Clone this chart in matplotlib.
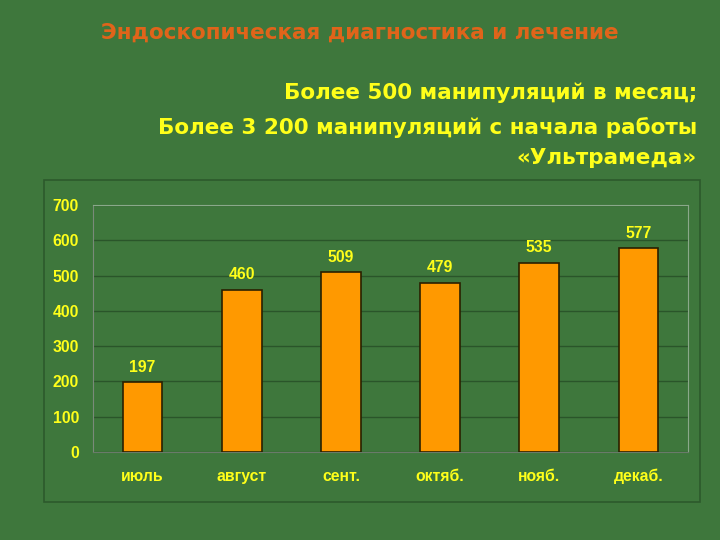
import numpy as np
import matplotlib.pyplot as plt
from matplotlib.patches import Rectangle

months = ['июль', 'август', 'сент.', 'октяб.', 'нояб.', 'декаб.']
counts = [197, 460, 509, 479, 535, 577]
yticks = [0, 100, 200, 300, 400, 500, 600, 700]

title = 'Эндоскопическая диагностика и лечение'
subtitle = ['Более 500 манипуляций в месяц;',
            'Более 3 200 манипуляций с начала работы',
            '«Ультрамеда»']

bg = '#3e773c'
yellow = '#ffff1a'

fig = plt.figure(figsize=(7.2, 5.4), dpi=100)
fig.patch.set_facecolor(bg)

# outer chart frame
fig.patches.append(Rectangle((44/720, 1-502/540), (700-44)/720, (502-180)/540,
                             transform=fig.transFigure, fill=False,
                             edgecolor='#2c5a2c', linewidth=1.2))

ax = fig.add_axes([93/720, 1-452/540, (688-93)/720, (452-205)/540])
ax.set_facecolor('none')

x = np.arange(len(months))
ax.bar(x, counts, width=0.4, color='#ff9900', edgecolor='#2a2000', linewidth=1.2, zorder=3)
for xi, v in zip(x, counts):
    ax.text(xi, v + 22, str(v), ha='center', va='bottom', color=yellow,
            fontsize=11.3, fontweight='bold', family='Liberation Sans')

ax.set_xlim(-0.5, len(months) - 0.5)
ax.set_ylim(0, 700)
ax.set_yticks(yticks)
ax.yaxis.grid(True, color='#2a552a', linewidth=1, zorder=0)
ax.set_xticks(x)
ax.set_xticklabels(months)
ax.tick_params(axis='both', colors=yellow, length=0, labelsize=11.3)
ax.tick_params(axis='y', pad=10)
ax.tick_params(axis='x', pad=12)
for lab in ax.get_xticklabels() + ax.get_yticklabels():
    lab.set_fontweight('bold')
    lab.set_family('Liberation Sans')
for side in ['top', 'right']:
    ax.spines[side].set_color('#8aa88a')
ax.spines['left'].set_color('#7a8a7a')
ax.spines['bottom'].set_color('#6a7a6a')

fig.text(360/720, 1-33/540, title, ha='center', va='center', color='#e0641a',
         fontsize=15.5, fontweight='bold', family='DejaVu Sans')
ys = [93, 128, 158]
for s, yy in zip(subtitle, ys):
    fig.text(697/720, 1-yy/540, s, ha='right', va='center', color=yellow,
             fontsize=15.5, fontweight='bold', family='DejaVu Sans')

fig.savefig('out.png', dpi=100, facecolor=fig.get_facecolor())
